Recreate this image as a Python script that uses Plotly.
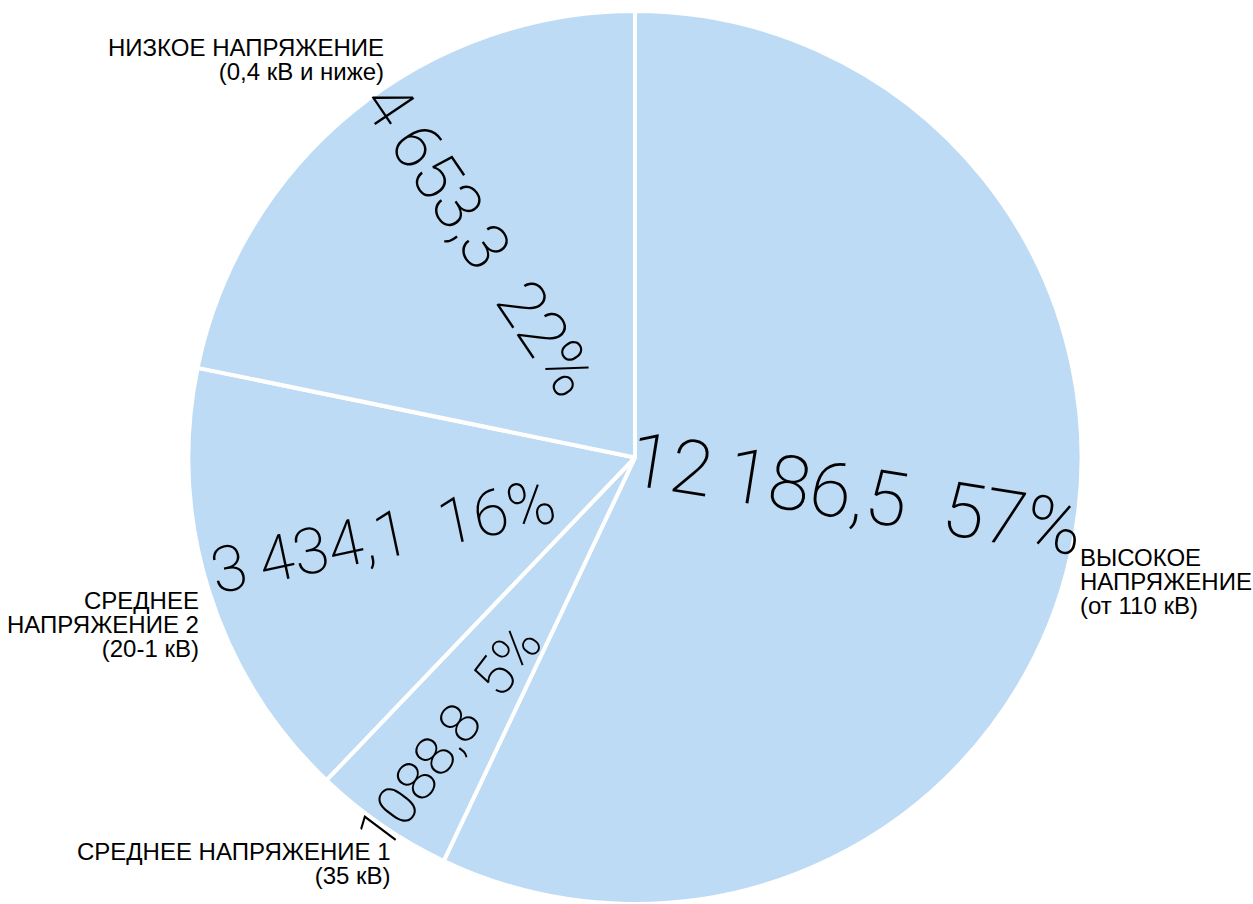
import math
import plotly.graph_objects as go

categories = ["ВЫСОКОЕ НАПРЯЖЕНИЕ (от 110 кВ)", "СРЕДНЕЕ НАПРЯЖЕНИЕ 1 (35 кВ)",
              "СРЕДНЕЕ НАПРЯЖЕНИЕ 2 (20-1 кВ)", "НИЗКОЕ НАПРЯЖЕНИЕ (0,4 кВ и ниже)"]
values = [12186.5, 1088.8, 3434.1, 4653.3]
value_labels = ["12\u2009186,5", "1088,8", "3\u2009434,1", "4\u2009653,3"]
pct_labels = ["57%", "5%", "16%", "22%"]
label_lines = [["ВЫСОКОЕ", "НАПРЯЖЕНИЕ", "(от 110 кВ)"],
               ["СРЕДНЕЕ НАПРЯЖЕНИЕ 1", "(35 кВ)"],
               ["СРЕДНЕЕ", "НАПРЯЖЕНИЕ 2", "(20-1 кВ)"],
               ["НИЗКОЕ НАПРЯЖЕНИЕ", "(0,4 кВ и ниже)"]]

# style (not data)
W, H = 1253, 904
PCX, PCY, PR = 635, 458, 447  # pie centre / radius on screen
text_sizes = [76, 56, 64, 66]
text_radius_frac = [0.5, 0.75, 0.59, 0.6]
text_angle_shift = [-3.4, -1.0, 0.0, 3.8]
text_angles = [9, -53, -12, 56]
# (x edge, y of first line's centre, anchor side)
label_pos = [(1078, 554, "left"), (393, 848, "right"), (201, 597, "right"), (386, 44, "right")]


def px(x):
    return x / W


def py(y):
    return 1 - y / H


fig = go.Figure(go.Pie(
    labels=categories,
    values=values,
    textinfo="none",
    sort=False,
    direction="clockwise",
    rotation=0,
    marker=dict(colors=["#BDDBF4"] * 4, line=dict(color="white", width=4)),
    hoverinfo="skip",
    showlegend=False,
    domain=dict(x=[px(PCX - PR), px(PCX + PR)],
                y=[max(0.0, py(PCY + PR)), min(1.0, py(PCY - PR))]),
))

total = sum(values)
cum = 0.0
for i, v in enumerate(values):
    mid = (cum + v / 2) / total * 2 * math.pi + math.radians(text_angle_shift[i])
    cum += v
    f = text_radius_frac[i]
    tx = PCX + f * PR * math.sin(mid)
    ty = PCY - f * PR * math.cos(mid)
    fig.add_annotation(x=px(tx), y=py(ty), xref="paper", yref="paper",
                       text=f"{value_labels[i]}\u00a0\u00a0{pct_labels[i]}",
                       textangle=text_angles[i], showarrow=False,
                       xanchor="center", yanchor="middle",
                       font=dict(family="Roboto", size=text_sizes[i], color="black", weight=200))

# base font 18.5 -> line step ~24 px; visible glyphs at 24 px
lbl_font = dict(family="Liberation Sans, Arial, sans-serif", size=18.5, color="black")
for lines, (lx, ly, side) in zip(label_lines, label_pos):
    txt = "<br>".join(f"<span style='font-size:24px'>{ln}</span>" for ln in lines)
    fig.add_annotation(x=px(lx), y=py(ly - 12), xref="paper", yref="paper",
                       text=txt, xanchor=side, yanchor="top", align=side,
                       showarrow=False, font=lbl_font)

fig.update_layout(width=W, height=H, margin=dict(l=0, r=0, t=0, b=0),
                  paper_bgcolor="white", plot_bgcolor="white")
fig.write_html("out.html", config={"displayModeBar": False},
               post_script="document.body.style.margin='0';document.body.style.overflow='hidden';")
